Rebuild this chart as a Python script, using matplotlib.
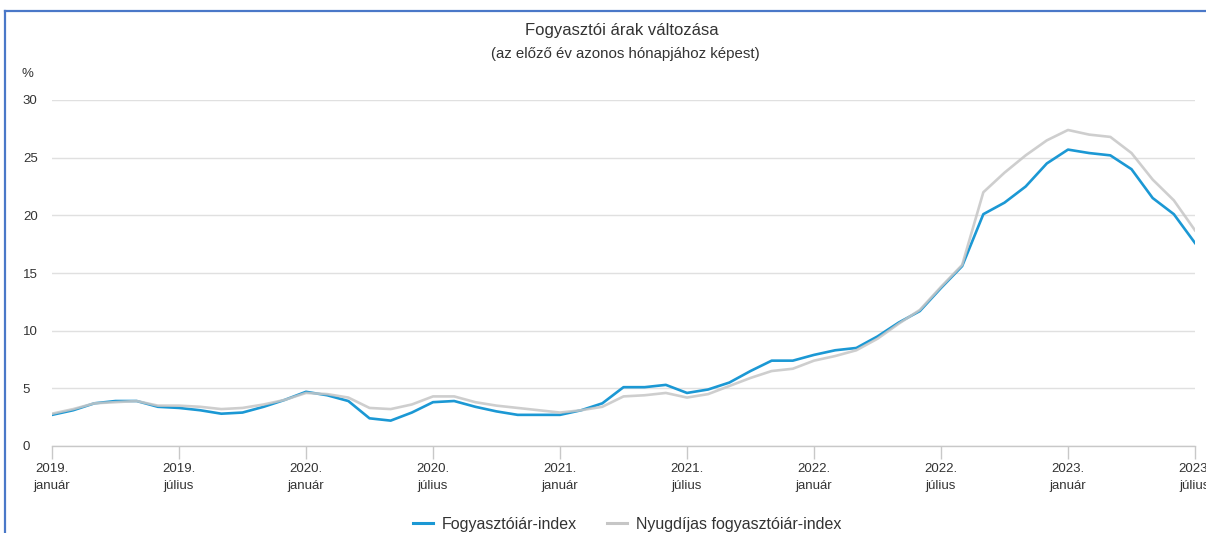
import matplotlib
matplotlib.use("Agg")
import matplotlib.pyplot as plt
from matplotlib.lines import Line2D
import numpy as np

plt.rcParams['font.family'] = ['Liberation Sans', 'DejaVu Sans']

# havi adatok, 2019. január - 2023. július
evek = [2019, 2020, 2021, 2022, 2023]
honapok = ['január', 'február', 'március', 'április', 'május', 'június',
           'július', 'augusztus', 'szeptember', 'október', 'november', 'december']

fogyasztoiar = [2.7, 3.1, 3.7, 3.9, 3.9, 3.4, 3.3, 3.1, 2.8, 2.9, 3.4, 4.0,
                4.7, 4.4, 3.9, 2.4, 2.2, 2.9, 3.8, 3.9, 3.4, 3.0, 2.7, 2.7,
                2.7, 3.1, 3.7, 5.1, 5.1, 5.3, 4.6, 4.9, 5.5, 6.5, 7.4, 7.4,
                7.9, 8.3, 8.5, 9.5, 10.7, 11.7, 13.7, 15.6, 20.1, 21.1, 22.5, 24.5,
                25.7, 25.4, 25.2, 24.0, 21.5, 20.1, 17.6]

nyugdijas = [2.8, 3.2, 3.7, 3.8, 3.9, 3.5, 3.5, 3.4, 3.2, 3.3, 3.6, 4.0,
             4.6, 4.5, 4.2, 3.3, 3.2, 3.6, 4.3, 4.3, 3.8, 3.5, 3.3, 3.1,
             2.9, 3.1, 3.4, 4.3, 4.4, 4.6, 4.2, 4.5, 5.2, 5.9, 6.5, 6.7,
             7.4, 7.8, 8.3, 9.3, 10.6, 11.8, 13.8, 15.7, 22.0, 23.7, 25.2, 26.5,
             27.4, 27.0, 26.8, 25.4, 23.1, 21.3, 18.7]

y_ticks = [0, 5, 10, 15, 20, 25, 30]

labels = []
for ev in evek:
    for h in honapok:
        labels.append(f"{ev}.\n{h}")
labels = labels[:len(fogyasztoiar)]
x = np.arange(len(labels))

kek = '#1b98d4'
szurke = '#c6c6c6'
szoveg = '#333333'

W, H = 1206, 533
fig = plt.figure(figsize=(W / 100, H / 100), dpi=100)
ax = fig.add_axes([52 / W, (H - 446) / H, (1195 - 52) / W, (446 - 100) / H])

ax.plot(x, fogyasztoiar, color=kek, lw=1.9, solid_joinstyle='round', zorder=3)
ax.plot(x, nyugdijas, color=szurke, lw=1.9, alpha=0.85, solid_joinstyle='round', zorder=4)

ax.set_xlim(0, len(labels) - 1)
ax.set_ylim(0, 30)

ax.set_yticks(y_ticks)
ax.set_yticklabels([str(v) for v in y_ticks])
for t in ax.get_yticklabels():
    t.set_horizontalalignment('left')
ax.tick_params(axis='y', length=0, pad=21, labelsize=9.5, labelcolor=szoveg)
ax.grid(axis='y', color='#e0e0e0', lw=1)
ax.set_axisbelow(True)

xt = x[::6]
ax.set_xticks(xt)
ax.set_xticklabels([labels[i] for i in xt], linespacing=1.6)
ax.tick_params(axis='x', length=9, width=1, color='#c8c8c8', pad=3,
               labelsize=9.5, labelcolor=szoveg)

for s in ['top', 'right', 'left']:
    ax.spines[s].set_visible(False)
ax.spines['bottom'].set_color('#c8c8c8')
ax.spines['bottom'].set_linewidth(1)

fig.text(622 / W, 1 - 31 / H, 'Fogyasztói árak változása', ha='center', va='center',
         fontsize=12, color=szoveg)
fig.text(625 / W, 1 - 54 / H, '(az előző év azonos hónapjához képest)', ha='center',
         va='center', fontsize=10.8, color=szoveg)
fig.text(22 / W, 1 - 74 / H, '%', ha='left', va='center', fontsize=9.5, color=szoveg)

handles = [Line2D([], [], color=kek, lw=2.2), Line2D([], [], color=szurke, lw=2.2)]
fig.legend(handles, ['Fogyasztóiár-index', 'Nyugdíjas fogyasztóiár-index'],
           loc='center', bbox_to_anchor=(627 / W, 1 - 524 / H), ncol=2, frameon=False,
           fontsize=11.5, handlelength=1.25, handletextpad=0.55, columnspacing=1.9,
           labelcolor=szoveg, borderaxespad=0, borderpad=0)

# kék keret bal oldalt és felül
fig.add_artist(Line2D([5 / W, 5 / W], [0, 1 - 11 / H], color='#4a78c8', lw=1.6))
fig.add_artist(Line2D([5 / W, 1], [1 - 11 / H, 1 - 11 / H], color='#4a78c8', lw=1.6))

fig.savefig('out.png', dpi=100)
